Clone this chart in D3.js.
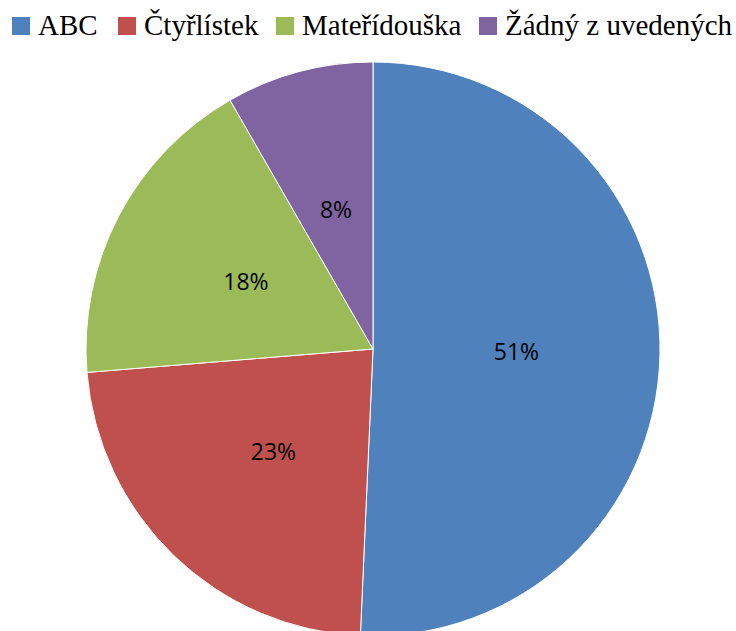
<!DOCTYPE html>
<html>
<head>
<meta charset="utf-8">
<script src="https://cdn.jsdelivr.net/npm/d3@7"></script>
<style>
  body { margin: 0; background: #fff; }
</style>
</head>
<body>
<div class="chart"></div>
<script>
var width = 736, height = 631;

var categories = ["ABC", "Čtyřlístek", "Mateřídouška", "Žádný z uvedených"];
var values = [50.7, 23.0, 18.0, 8.3];
var colors = ["#4f81bd", "#c0504d", "#9bbb59", "#8064a2"];

var svg = d3.select(".chart")
    .append("svg")
    .attr("width", width)
    .attr("height", height);

var cx = 373, cy = 349, radius = 287;

var data = categories.map(function(c, i) { return {name: c, value: values[i]}; });

var color = d3.scaleOrdinal().domain(categories).range(colors);

var pie = d3.pie().sort(null).value(function(d) { return d.value; });
var arc = d3.arc().innerRadius(0).outerRadius(radius);
var labelArc = d3.arc().innerRadius(radius * 0.5).outerRadius(radius * 0.5);

var total = d3.sum(values);

var g = svg.append("g").attr("transform", "translate(" + cx + "," + cy + ")");

var slices = g.selectAll("g.slice")
    .data(pie(data))
    .enter().append("g")
    .attr("class", "slice");

slices.append("path")
    .attr("d", arc)
    .attr("fill", function(d) { return color(d.data.name); })
    .attr("stroke", "#fff")
    .attr("stroke-width", 1);

slices.append("text")
    .attr("transform", function(d) { return "translate(" + labelArc.centroid(d) + ")"; })
    .attr("text-anchor", "middle")
    .attr("dy", "0.35em")
    .style("font-family", "'Open Sans', 'Liberation Sans', sans-serif")
    .style("font-size", "23px")
    .style("fill", "#000")
    .text(function(d) { return Math.round(d.data.value / total * 100) + "%"; });

// legend
var legendX = [12, 118, 276, 479];
var legend = svg.selectAll("g.legend")
    .data(categories)
    .enter().append("g")
    .attr("class", "legend")
    .attr("transform", function(d, i) { return "translate(" + legendX[i] + ",17)"; });

legend.append("rect")
    .attr("width", 18)
    .attr("height", 18)
    .attr("fill", function(d) { return color(d); });

legend.append("text")
    .attr("x", 26)
    .attr("y", 18)
    .style("font-family", "'Liberation Serif', 'Times New Roman', serif")
    .style("font-size", "29px")
    .style("fill", "#000")
    .text(function(d) { return d; });
</script>
</body>
</html>
